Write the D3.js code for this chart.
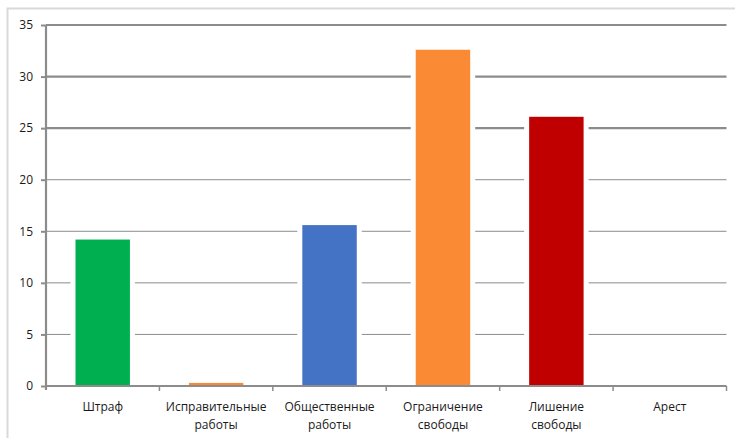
<!DOCTYPE html>
<html lang="ru">
<head>
    <meta charset="UTF-8">
    <title>Виды наказаний</title>
    <script src="https://d3js.org/d3.v7.min.js"></script>
    <style>
        body { margin: 0; background: #fff; }
        svg text { font-family: "Open Sans", "Liberation Sans", sans-serif; font-size: 12px; fill: #1a1a1a; }
    </style>
</head>
<body>
    <svg width="735" height="438"></svg>

    <script>
        const categories = [
            ["Штраф"],
            ["Исправительные", "работы"],
            ["Общественные", "работы"],
            ["Ограничение", "свободы"],
            ["Лишение", "свободы"],
            ["Арест"]
        ];
        const values = [14.2, 0.3, 15.6, 32.6, 26.1, 0];
        const barColors = ["#00b050", "#f98a34", "#4472c4", "#fb8a34", "#c00000", "#888"];
        const yTicks = [0, 5, 10, 15, 20, 25, 30, 35];

        const data = categories.map((c, i) => ({name: c.join(" "), lines: c, value: values[i], color: barColors[i]}));

        const svg = d3.select("svg");
        const plot = {left: 46, right: 726.5, top: 25, bottom: 386};

        // outer chart frame (only top and left visible)
        svg.append("rect")
            .attr("x", 7.5).attr("y", 8.5)
            .attr("width", 760).attr("height", 460)
            .attr("fill", "none").attr("stroke", "#d9d9d9").attr("stroke-width", 2);

        const x = d3.scaleBand()
            .domain(data.map(d => d.name))
            .range([plot.left, plot.right])
            .paddingInner(0.52)
            .paddingOuter(0.26);

        const band = d3.scaleBand()
            .domain(data.map(d => d.name))
            .range([plot.left, plot.right]);

        const y = d3.scaleLinear()
            .domain([0, 35])
            .range([plot.bottom, plot.top]);

        // gridlines: top three heavier
        svg.append("g")
            .selectAll("line")
            .data(yTicks.filter(t => t > 0))
            .join("line")
            .attr("x1", plot.left).attr("x2", plot.right)
            .attr("y1", d => y(d)).attr("y2", d => y(d))
            .attr("stroke", "#8c8c8c")
            .attr("stroke-width", d => d >= 25 ? 2.2 : 1);

        // white gaps beside the bars
        svg.append("g")
            .selectAll("rect")
            .data(data.filter(d => d.value > 0))
            .join("rect")
            .attr("x", d => x(d.name) - 5)
            .attr("y", d => y(d.value))
            .attr("width", x.bandwidth() + 10)
            .attr("height", d => plot.bottom - y(d.value))
            .attr("fill", "#fff");

        svg.append("g")
            .selectAll("rect")
            .data(data.filter(d => d.value > 0))
            .join("rect")
            .attr("x", d => x(d.name))
            .attr("y", d => y(d.value))
            .attr("width", x.bandwidth())
            .attr("height", d => plot.bottom - y(d.value))
            .attr("fill", d => d.color);

        // y axis
        const yAxis = svg.append("g")
            .attr("transform", `translate(${plot.left},0)`)
            .call(d3.axisLeft(y).tickValues(yTicks).tickSize(5).tickPadding(8));
        yAxis.select(".domain").attr("d", `M0,${plot.top}V${plot.bottom + 4}`).attr("stroke", "#8c8c8c").attr("stroke-width", 2.2);
        yAxis.selectAll(".tick line").attr("stroke", "#8c8c8c").attr("stroke-width", 2);
        yAxis.selectAll(".tick text").style("font-size", "12px").attr("fill", "#1a1a1a");

        // x axis
        svg.append("line")
            .attr("x1", plot.left).attr("x2", plot.right)
            .attr("y1", plot.bottom).attr("y2", plot.bottom)
            .attr("stroke", "#8c8c8c").attr("stroke-width", 2.2);

        svg.append("g")
            .selectAll("line")
            .data(data)
            .join("line")
            .attr("x1", d => band(d.name) + band.bandwidth())
            .attr("x2", d => band(d.name) + band.bandwidth())
            .attr("y1", plot.bottom).attr("y2", plot.bottom + 5)
            .attr("stroke", "#8c8c8c").attr("stroke-width", 1.5);

        const labels = svg.append("g")
            .selectAll("text")
            .data(data)
            .join("text")
            .attr("text-anchor", "middle")
            .attr("x", d => band(d.name) + band.bandwidth() / 2)
            .attr("y", 411);

        labels.selectAll("tspan")
            .data(d => d.lines.map(l => ({l, cx: band(d.name) + band.bandwidth() / 2})))
            .join("tspan")
            .attr("x", d => d.cx)
            .attr("dy", (d, i) => i === 0 ? 0 : 18)
            .text(d => d.l);
    </script>
</body>
</html>
